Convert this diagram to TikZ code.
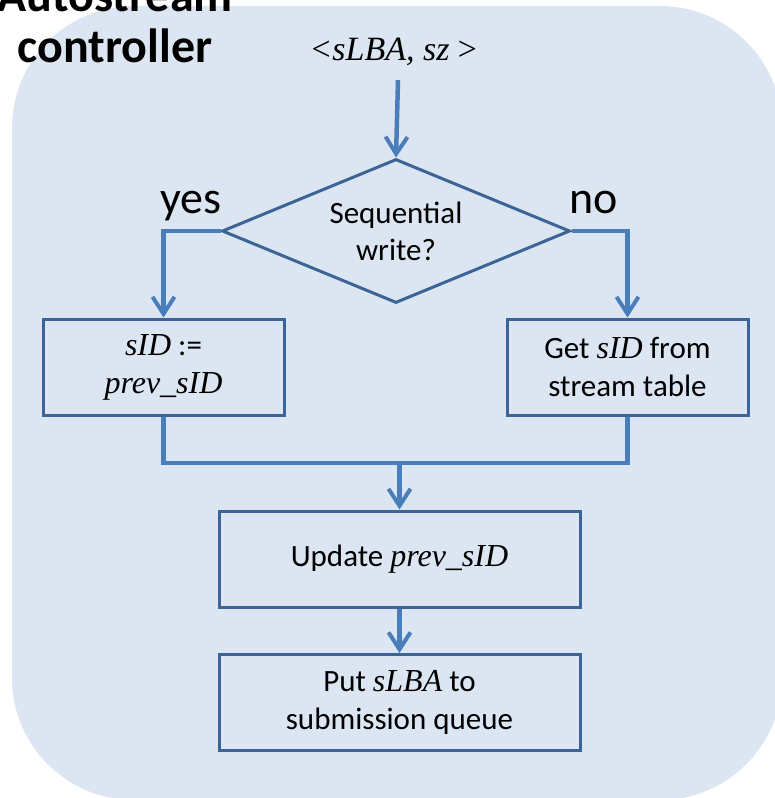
\documentclass[tikz,border=0pt]{standalone}
\usepackage{fontspec}
\setmainfont{Carlito}
\newfontfamily\tmsfam{Liberation Serif}
\usetikzlibrary{shapes.geometric,arrows.meta}
\newcommand\varit[1]{{\tmsfam\itshape #1}}
\definecolor{panelfill}{HTML}{DCE6F2}
\definecolor{flowline}{HTML}{4A7EBB}
\definecolor{boxline}{HTML}{3C6496}
\tikzset{
  stepbox/.style={draw=boxline, line width=3pt, rectangle, inner sep=0pt,
    minimum height=96pt, align=center, font=\fontsize{31}{38}\selectfont},
  decision/.style={draw=boxline, line width=3pt, diamond, aspect=2.42,
    inner sep=0pt, minimum width=348pt, minimum height=144pt, align=center,
    font=\fontsize{31}{37}\selectfont},
  flow/.style={draw=flowline, line width=4.5pt,
    -{Straight Barb[length=17pt,width=22pt,line width=4pt]}},
  link/.style={draw=flowline, line width=4.5pt},
  branchlabel/.style={anchor=base, inner sep=0pt, font=\fontsize{46}{50}\selectfont},
}
\begin{document}
\begin{tikzpicture}[x=1pt, y=-1pt]
\useasboundingbox (0,0) rectangle (775,798);
\clip (0,0) rectangle (775,798);
% rounded panel of the controller
\fill[panelfill, rounded corners=122pt] (12,6) rectangle (782,800);

% title
\node[anchor=south, inner sep=0pt, align=center,
      font=\fontsize{48}{51}\selectfont\bfseries] (title) at (115,63)
      {Autostream\\controller};

% input request
\node[anchor=base, inner sep=0pt, font=\fontsize{34}{38}\selectfont] (req) at (394,60)
      {\varit{<sLBA, sz\kern6pt>}};
\coordinate (reqend) at (398,80);

% flow nodes
\node[decision] (seq) at (396,231) {Sequential\\write?};
\node[stepbox, minimum width=241pt] (keep) at (163.5,367)
      {\varit{\fontsize{32}{38}\selectfont sID} :=\\\varit{\fontsize{32}{38}\selectfont prev\_sID}};
\node[stepbox, minimum width=241pt] (lookup) at (627.5,367)
      {Get \varit{\fontsize{32}{38}\selectfont sID} from\\stream table};
\node[stepbox, minimum width=361pt] (update) at (399.5,559)
      {Update \varit{\fontsize{32}{38}\selectfont prev\_sID}};
\node[stepbox, minimum width=361pt] (submit) at (399.5,702.5)
      {Put \varit{\fontsize{32}{38}\selectfont sLBA} to\\submission queue};

% branch labels
\node[branchlabel] (yes) at (191,213) {yes};
\node[branchlabel] (no) at (594,213) {no};

% connectors
\coordinate (merge) at (399.5,463);
\draw[flow] (reqend) -- (seq.north);
\draw[flow] (seq.west) -| (keep.north);
\draw[flow] (seq.east) -| (lookup.north);
\draw[link] (keep.south) |- (merge) -| (lookup.south);
\draw[flow] (merge) -- (update.north);
\draw[flow] (update.south) -- (submit.north);
\end{tikzpicture}
\end{document}
